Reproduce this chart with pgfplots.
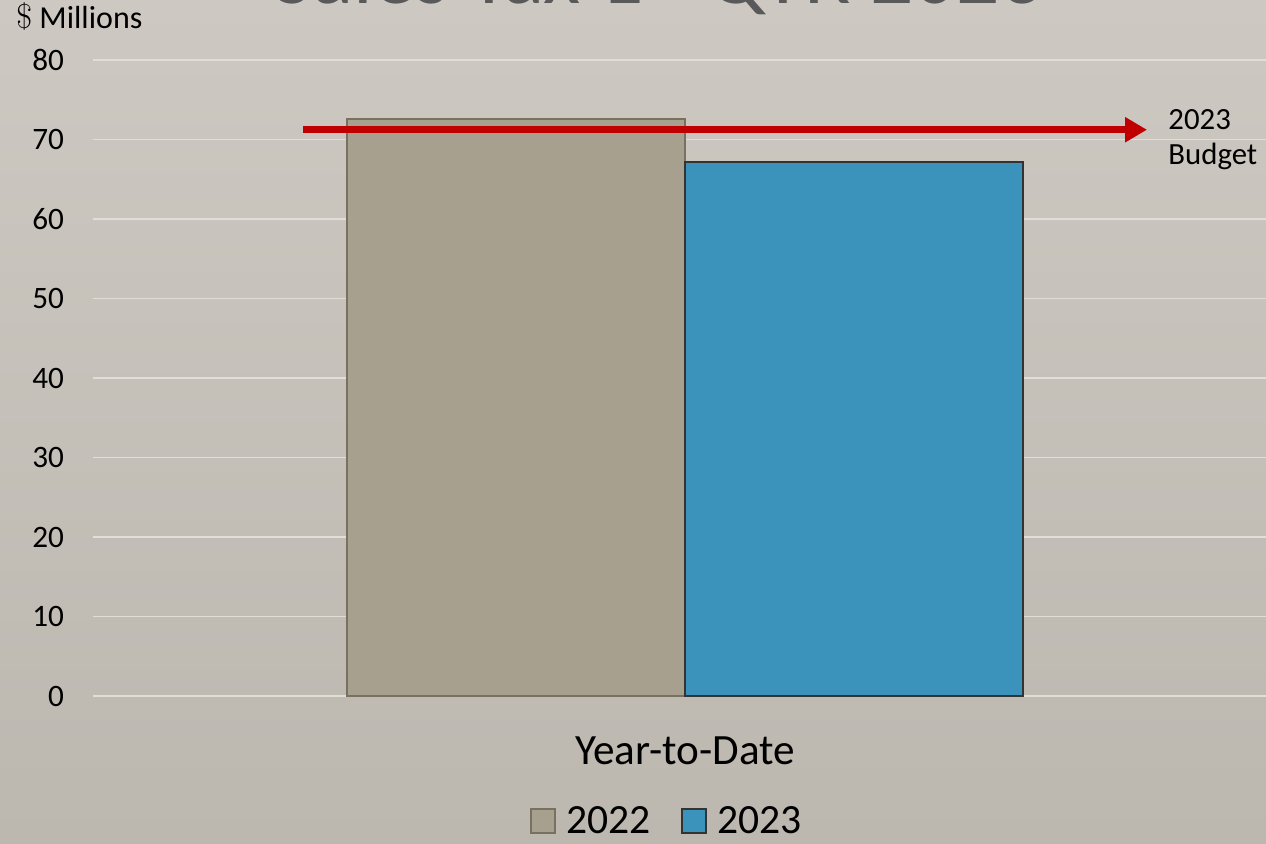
\documentclass[border=0pt]{standalone}
\usepackage{fontspec}
\setmainfont{Carlito}
\usepackage{pgfplots}
\pgfplotsset{compat=1.18}
\usetikzlibrary{arrows.meta}
\definecolor{bgtop}{HTML}{CDC9C2}
\definecolor{bgbot}{HTML}{BCB7AF}
\definecolor{gridc}{HTML}{E1DED9}
\definecolor{barA}{HTML}{A7A08F}
\definecolor{barAe}{HTML}{77725F}
\definecolor{barB}{HTML}{3B93BC}
\definecolor{barBe}{HTML}{333333}
\definecolor{arrowc}{HTML}{C00000}
\definecolor{titlec}{HTML}{595959}
\begin{document}
\begin{tikzpicture}
\useasboundingbox (0,0) rectangle (633pt,421.5pt);
\shade[top color=bgtop,bottom color=bgbot] (0,0) rectangle (633pt,421.5pt);
\begin{axis}[
 at={(46.5pt,73.5pt)}, anchor=south west,
 scale only axis, width=586.5pt, height=318pt,
 xmin=-592, xmax=581, ymin=0, ymax=80,
 axis line style={draw=none},
 ytick={0,10,...,80}, xtick={0}, xticklabels={Year-to-Date},
 major tick length=0pt,
 ymajorgrids, grid style={gridc, line width=0.9pt},
 /pgf/number format/assume math mode=true,
 yticklabel style={font=\fontsize{15.6}{18}\selectfont, text=black, xshift=-11pt},
 xticklabel style={font=\fontsize{21.6}{25}\selectfont, text=black, yshift=-17pt},
 legend style={at={(0.4902,-0.197)}, anchor=center, draw=none, fill=none,
   legend columns=2, font=\fontsize{20.8}{24}\selectfont,
   /tikz/every odd column/.append style={column sep=3.5pt},
   /tikz/every even column/.append style={column sep=13pt}},
 clip=false,
]
\addplot[ybar, bar width=169pt, bar shift=-84.5pt, fill=barA, draw=barAe, line width=1pt,
  legend image code/.code={\draw[fill=barA, draw=barAe, line width=0.8pt] (0pt,-6pt) rectangle (12pt,6pt);}]
  coordinates {(0,72.55)};
\addlegendentry{2022}
\addplot[ybar, bar width=169pt, bar shift=84.5pt, fill=barB, draw=barBe, line width=0.8pt,
  legend image code/.code={\draw[fill=barB, draw=barBe, line width=0.8pt] (0pt,-6pt) rectangle (12pt,6pt);}]
  coordinates {(0,67.15)};
\addlegendentry{2023}
\addplot[sharp plot, forget plot, color=arrowc, line width=3.65pt, -{Triangle[length=11pt,width=12pt]}]
  coordinates {(-382,71.23) (462,71.23)};
\end{axis}
\node[anchor=base west, font=\fontsize{42.8}{48}\selectfont, text=titlec, inner sep=0pt] at (136.5pt,419.5pt) {Sales Tax 1\textsuperscript{st} QTR 2023};
\node[anchor=base west, font=\fontsize{16}{18}\selectfont, inner sep=0pt] at (8pt,407pt) {$\$$ Millions};
\node[anchor=base west, font=\fontsize{15.4}{18}\selectfont, inner sep=0pt] at (584pt,356.5pt) {2023};
\node[anchor=base west, font=\fontsize{15.4}{18}\selectfont, inner sep=0pt] at (584pt,339pt) {Budget};
\end{tikzpicture}
\end{document}
